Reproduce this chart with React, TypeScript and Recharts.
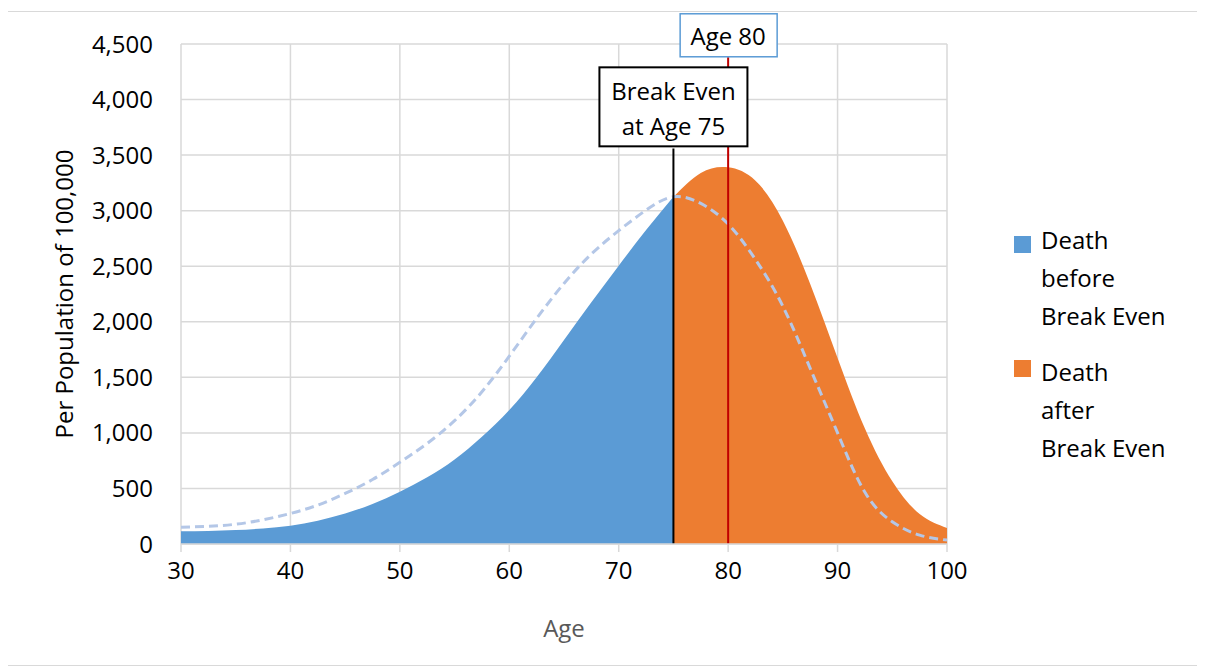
import {
  ComposedChart,
  Area,
  Line,
  XAxis,
  YAxis,
  CartesianGrid,
  ReferenceLine,
  ReferenceDot,
} from "recharts";

// ages sampled every 2.5 years
const ages = [
  30, 32.5, 35, 37.5, 40, 42.5, 45, 47.5, 50, 52.5, 55, 57.5, 60, 62.5, 65,
  67.5, 70, 72.5, 75, 77.5, 80, 82.5, 85, 87.5, 90, 92.5, 95, 97.5, 100,
];

// deaths per 100,000 up to age 75
const beforeBreakEven = [
  115, 118, 125, 140, 165, 210, 275, 360, 470, 600, 760, 965, 1205, 1500, 1835,
  2175, 2505, 2825, 3125,
];

// deaths per 100,000 from age 75 on
const afterBreakEven = [3125, 3340, 3390, 3270, 2910, 2340, 1675, 1040, 565, 270, 145];

// dashed comparison curve
const comparisonCurve = [
  150, 160, 178, 218, 275, 350, 455, 580, 735, 905, 1110, 1370, 1690, 2030, 2345,
  2610, 2820, 3005, 3125, 3065, 2880, 2560, 2140, 1580, 1000, 465, 200, 80, 35,
];

const xTicks = [30, 40, 50, 60, 70, 80, 90, 100];
const yTicks = [0, 500, 1000, 1500, 2000, 2500, 3000, 3500, 4000, 4500];

const breakEvenAge = 75;
const markerAge = 80;

const afterStart = ages.length - afterBreakEven.length;
const chartData = ages.map((age, i) => ({
  age,
  before: i < beforeBreakEven.length ? beforeBreakEven[i] : null,
  after: i >= afterStart ? afterBreakEven[i - afterStart] : null,
  curve: comparisonCurve[i],
}));

const BreakEvenBox = (props: any) => {
  const { cx, cy } = props;
  return (
    <g>
      <rect x={cx - 74} y={cy - 80} width={148} height={79} fill="#fff" stroke="#000" strokeWidth={2} />
      <text x={cx} y={cy - 57} textAnchor="middle" dominantBaseline="central" fontSize={24} fill="#000">
        Break Even
      </text>
      <text x={cx} y={cy - 22} textAnchor="middle" dominantBaseline="central" fontSize={24} fill="#000">
        at Age 75
      </text>
    </g>
  );
};

const AgeBox = (props: any) => {
  const { cx, cy } = props;
  return (
    <g>
      <rect x={cx - 48} y={cy - 43} width={97} height={43} fill="#fff" stroke="#5B9BD5" strokeWidth={1.5} />
      <text x={cx} y={cy - 21} textAnchor="middle" dominantBaseline="central" fontSize={24} fill="#000">
        Age 80
      </text>
    </g>
  );
};

const fmt = (v: number) => v.toLocaleString("en-US");

export default function App() {
  return (
    <div
      style={{
        position: "relative",
        width: 1192,
        height: 653,
        marginLeft: -1,
        marginTop: 3,
        border: "1px solid #d9d9d9",
        fontFamily: "'Open Sans', sans-serif",
        background: "#fff",
      }}
    >
      <ComposedChart
        width={1190}
        height={650}
        data={chartData}
        margin={{ top: 32, right: 251, bottom: 0, left: 0 }}
      >
        <CartesianGrid stroke="#d9d9d9" strokeWidth={1.5} />
        <XAxis
          dataKey="age"
          type="number"
          domain={[30, 100]}
          ticks={xTicks}
          height={118}
          tick={{ fill: "#000", fontSize: 24 }}
          stroke="#d9d9d9"
          strokeWidth={1.5}
          tickSize={8}
          tickMargin={10}
          label={({ viewBox }: any) => (
            <text
              x={viewBox.x + viewBox.width / 2}
              y={615}
              textAnchor="middle"
              dominantBaseline="central"
              fontSize={24}
              fill="#595959"
            >
              Age
            </text>
          )}
        />
        <YAxis
          type="number"
          domain={[0, 4500]}
          ticks={yTicks}
          width={173}
          axisLine={false}
          tickLine={false}
          tickSize={0}
          tickMargin={28}
          tickFormatter={fmt}
          tick={{ fill: "#000", fontSize: 24 }}
          label={({ viewBox }: any) => {
            const cy = viewBox.y + viewBox.height / 2;
            return (
              <text
                x={55}
                y={cy}
                transform={`rotate(-90, 55, ${cy})`}
                textAnchor="middle"
                dominantBaseline="central"
                fontSize={24}
                fill="#000"
              >
                Per Population of 100,000
              </text>
            );
          }}
        />
        <Area
          type="natural"
          dataKey="before"
          stroke="none"
          fill="#5B9BD5"
          fillOpacity={1}
          isAnimationActive={false}
        />
        <Area
          type="natural"
          dataKey="after"
          stroke="none"
          fill="#ED7D31"
          fillOpacity={1}
          isAnimationActive={false}
        />
        <Line
          type="natural"
          dataKey="curve"
          stroke="#B4C7E7"
          strokeWidth={3}
          strokeDasharray="9 5"
          dot={false}
          isAnimationActive={false}
        />
        <ReferenceLine
          segment={[
            { x: breakEvenAge, y: 0 },
            { x: breakEvenAge, y: 3560 },
          ]}
          stroke="#000"
          strokeWidth={2}
        />
        <ReferenceLine
          segment={[
            { x: markerAge, y: 0 },
            { x: markerAge, y: 4380 },
          ]}
          stroke="#C00000"
          strokeWidth={2}
        />
        <ReferenceDot x={breakEvenAge} y={3570} ifOverflow="visible" shape={BreakEvenBox} />
        <ReferenceDot x={markerAge} y={4385} ifOverflow="visible" shape={AgeBox} />
      </ComposedChart>

      {/* legend */}
      <div style={{ position: "absolute", left: 1006, top: 224, width: 17, height: 17, background: "#5B9BD5" }} />
      <div style={{ position: "absolute", left: 1033, top: 209, fontSize: 24, lineHeight: "38px", color: "#000" }}>
        Death
        <br />
        before
        <br />
        Break Even
      </div>
      <div style={{ position: "absolute", left: 1006, top: 348, width: 17, height: 17, background: "#ED7D31" }} />
      <div style={{ position: "absolute", left: 1033, top: 341, fontSize: 24, lineHeight: "38px", color: "#000" }}>
        Death
        <br />
        after
        <br />
        Break Even
      </div>
    </div>
  );
}
